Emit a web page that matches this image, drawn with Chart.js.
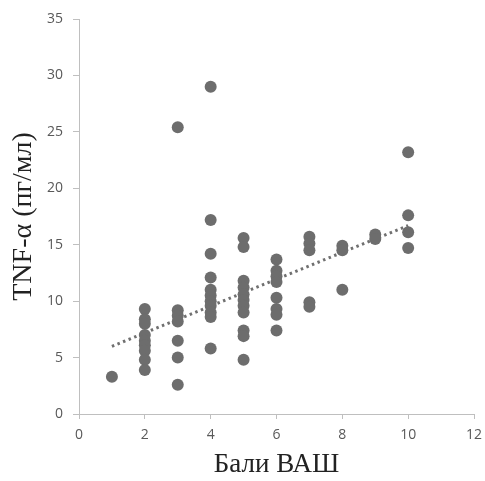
<!DOCTYPE html>
<html>
<head>
<meta charset="utf-8">
<script src="https://cdn.jsdelivr.net/npm/chart.js@4"></script>
<style>
html,body{margin:0;padding:0;background:#fff;}
#wrap{width:485px;height:481px;}
</style>
</head>
<body>
<div id="wrap"><canvas id="c" width="485" height="481"></canvas></div>
<script>
// VAS scores (x) and TNF-alpha values (y), grouped by score
const vasScores = [1, 2, 3, 4, 5, 6, 7, 8, 9, 10];
const tnfByScore = [
  [3.3],
  [9.3, 8.4, 8.0, 7.0, 6.5, 6.1, 5.6, 4.8, 3.9],
  [25.4, 9.2, 8.7, 8.2, 6.5, 5.0, 2.6],
  [29.0, 17.2, 14.2, 12.1, 11.0, 10.5, 10.0, 9.6, 9.0, 8.6, 5.8],
  [15.6, 14.8, 11.8, 11.2, 10.6, 10.1, 9.6, 9.0, 7.4, 6.9, 4.8],
  [13.7, 12.7, 12.2, 11.7, 10.3, 9.3, 8.8, 7.4],
  [15.7, 15.1, 14.5, 9.9, 9.5],
  [14.9, 14.5, 11.0],
  [15.9, 15.5],
  [23.2, 17.6, 16.1, 14.7]
];
// Linear trend line end points
const trendX = [1, 10];
const trendY = [6.0, 16.7];

const xTicks = [0, 2, 4, 6, 8, 10, 12];
const yTicks = [0, 5, 10, 15, 20, 25, 30, 35];

const points = [];
vasScores.forEach((s, i) => tnfByScore[i].forEach(v => points.push({x: s, y: v})));
const trend = trendX.map((x, i) => ({x: x, y: trendY[i]}));

const tickColor = '#595959';
const axisColor = '#bfbfbf';

new Chart(document.getElementById('c'), {
  type: 'scatter',
  data: {
    datasets: [
      {
        data: points,
        backgroundColor: '#6d6d6d',
        borderColor: '#6d6d6d',
        pointRadius: 6,
        pointHoverRadius: 6,
        borderWidth: 0
      },
      {
        type: 'line',
        data: trend,
        showLine: true,
        borderColor: '#707070',
        borderWidth: 3,
        borderDash: [2.5, 3.5],
        pointRadius: 0,
        fill: false
      }
    ]
  },
  options: {
    responsive: false,
    animation: false,
    events: [],
    layout: {padding: {top: 19, right: 11, left: 0, bottom: 0}},
    plugins: {legend: {display: false}, tooltip: {enabled: false}},
    scales: {
      x: {
        type: 'linear',
        min: 0, max: 12,
        afterBuildTicks: a => { a.ticks = xTicks.map(v => ({value: v})); },
        afterFit: a => { a.height = 67; a.paddingLeft = 0; a.paddingRight = 0; },
        grid: {drawOnChartArea: false, color: axisColor, tickLength: 5, lineWidth: 1},
        border: {color: axisColor, width: 1},
        ticks: {color: tickColor, font: {family: 'Open Sans', size: 14}, padding: 8},
        title: {display: true, text: 'Бали ВАШ', color: '#222', font: {family: 'Liberation Serif', size: 27}, padding: {top: 2, bottom: 0}}
      },
      y: {
        type: 'linear',
        min: 0, max: 35,
        afterBuildTicks: a => { a.ticks = yTicks.map(v => ({value: v})); },
        afterFit: a => { a.width = 79; a.paddingTop = 0; a.paddingBottom = 0; },
        grid: {drawOnChartArea: false, color: axisColor, tickLength: 6, lineWidth: 1},
        border: {color: axisColor, width: 1},
        ticks: {color: tickColor, font: {family: 'Open Sans', size: 14}, padding: 10},
        title: {display: true, text: 'TNF-α (пг/мл)', color: '#222', font: {family: 'Liberation Serif', size: 28}, padding: {top: 7, bottom: 0}}
      }
    }
  }
});
</script>
</body>
</html>
